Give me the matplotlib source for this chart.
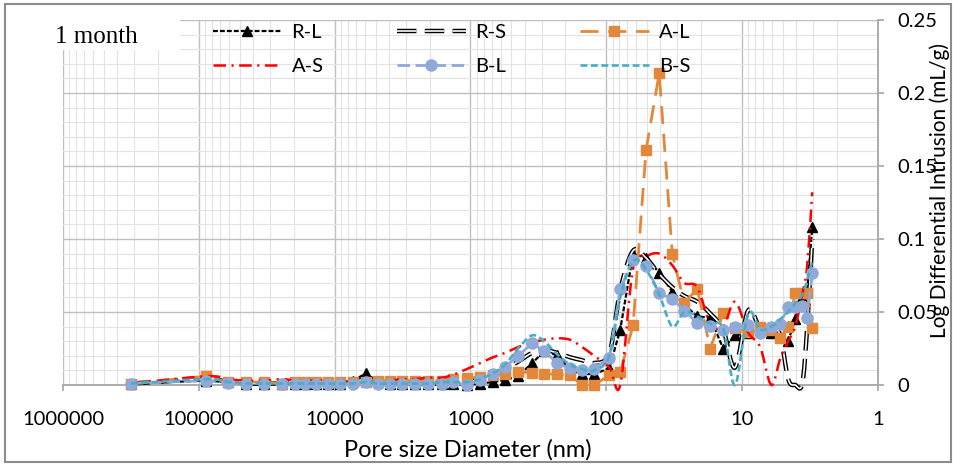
import numpy as np
import matplotlib
matplotlib.use('Agg')
import matplotlib.pyplot as plt
from matplotlib.path import Path
from matplotlib.patches import PathPatch, Rectangle
from matplotlib.lines import Line2D
from matplotlib.ticker import LogLocator, MultipleLocator, FuncFormatter, NullFormatter

plt.rcParams['font.family'] = ['Lato', 'DejaVu Sans']
plt.rcParams['lines.scale_dashes'] = False

# pore diameters (nm), shared by all series
diam = [315600, 88500, 61000, 44900, 33100, 24400, 19600, 16500, 13700, 11200,
        9120, 7320, 5870, 4790, 3910, 3190, 2560, 2050, 1620, 1340,
        1060, 849, 682, 556, 446, 352, 287, 230, 185, 151,
        123, 95, 79, 63.5, 51, 40.8, 32.7, 26.7, 21.4, 17.2,
        13.8, 11.3, 9.04, 7.37, 6.11, 5.25, 4.58, 4.07, 3.61, 3.32, 3.05]

r_l = [0.001, 0.003, 0.002, 0.001, 0.001, 0.001, 0.001, 0.001, 0.001, 0.001,
       0.001, 0.003, 0.008, 0.002, 0.001, 0.001, 0.001, 0.001, 0.001, 0.001,
       0.0, 0.001, 0.002, 0.0035, 0.006, 0.015, 0.023, 0.0205, 0.010, 0.0075,
       0.0075, 0.0115, 0.038, 0.090, 0.087, 0.077, 0.064, 0.055, 0.047, 0.046,
       0.025, 0.034, 0.0355, 0.039, 0.0355, 0.033, 0.030, 0.045, 0.060, 0.064, 0.108]

r_s = [0.001, 0.004, 0.002, 0.001, 0.001, 0.001, 0.001, 0.001, 0.001, 0.001,
       0.001, 0.002, 0.004, 0.002, 0.001, 0.001, 0.001, 0.001, 0.001, 0.002,
       0.002, 0.004, 0.007, 0.011, 0.016, 0.022, 0.024, 0.022, 0.019, 0.017,
       0.015, 0.022, 0.065, 0.092, 0.087, 0.076, 0.067, 0.061, 0.057, 0.049,
       0.038, 0.012, 0.051, 0.039, 0.040, 0.034, 0.004, 0.0, 0.001, 0.040, 0.100]

a_l = [0.001, 0.006, 0.002, 0.002, 0.002, 0.001, 0.002, 0.002, 0.002, 0.002,
       0.002, 0.002, 0.002, 0.003, 0.003, 0.003, 0.003, 0.003, 0.003, 0.004,
       0.0045, 0.0057, 0.0068, 0.0075, 0.009, 0.0085, 0.0075, 0.0075, 0.0068, 0.0,
       0.0, 0.0068, 0.0087, 0.041, 0.161, 0.2135, 0.090, 0.056, 0.066, 0.025,
       0.049, 0.039, 0.036, 0.040, 0.038, 0.032, 0.040, 0.063, 0.063, 0.063, 0.039]

a_s = [0.001, 0.006, 0.004, 0.003, 0.003, 0.004, 0.003, 0.003, 0.003, 0.003,
       0.002, 0.003, 0.003, 0.002, 0.003, 0.004, 0.004, 0.005, 0.005, 0.007,
       0.011, 0.015, 0.019, 0.022, 0.026, 0.029, 0.031, 0.032, 0.031, 0.026,
       0.020, 0.012, 0.0, 0.080, 0.088, 0.090, 0.082, 0.070, 0.067, 0.042,
       0.040, 0.057, 0.036, 0.026, 0.0, 0.018, 0.030, 0.040, 0.062, 0.082, 0.132]

b_l = [0.001, 0.003, 0.0015, 0.001, 0.001, 0.0005, 0.0005, 0.0005, 0.0005, 0.001,
       0.001, 0.001, 0.002, 0.0005, 0.0005, 0.0005, 0.001, 0.001, 0.001, 0.002,
       0.0, 0.0034, 0.0075, 0.0125, 0.020, 0.0285, 0.0235, 0.015, 0.0114, 0.0105,
       0.011, 0.0187, 0.0655, 0.0856, 0.0815, 0.063, 0.059, 0.051, 0.0425, 0.0406,
       0.0375, 0.0397, 0.041, 0.0358, 0.040, 0.0418, 0.0536, 0.0532, 0.054, 0.0457, 0.0765]

b_s = [0.001, 0.004, 0.002, 0.001, 0.001, 0.001, 0.001, 0.001, 0.001, 0.001,
       0.001, 0.001, 0.002, 0.001, 0.001, 0.001, 0.001, 0.001, 0.002, 0.002,
       0.002, 0.004, 0.008, 0.014, 0.025, 0.034, 0.030, 0.021, 0.014, 0.011,
       0.010, 0.020, 0.060, 0.085, 0.079, 0.062, 0.040, 0.050, 0.047, 0.042,
       0.039, 0.0, 0.049, 0.038, 0.040, 0.045, 0.050, 0.056, 0.062, 0.072, 0.085]

x_ticks = [1e6, 1e5, 1e4, 1e3, 1e2, 1e1, 1]

orange = '#E3873B'
lblue = '#8FA9D8'
cyan = '#4BACC6'


def smooth_path(xs, ys):
    # excel-like smoothed line: catmull-rom bezier in (log x, y)
    pts = np.column_stack([np.log10(xs), ys])
    n = len(pts)
    verts = [pts[0]]
    codes = [Path.MOVETO]
    for i in range(n - 1):
        p0 = pts[max(i - 1, 0)]
        p1 = pts[i]
        p2 = pts[i + 1]
        p3 = pts[min(i + 2, n - 1)]
        verts += [p1 + (p2 - p0) / 6, p2 - (p3 - p1) / 6, p2]
        codes += [Path.CURVE4] * 3
    verts = np.array(verts)
    verts[:, 0] = 10 ** verts[:, 0]
    return Path(verts, codes)


fig = plt.figure(figsize=(9.54, 4.66), dpi=100)
ax = fig.add_axes([63 / 954, 1 - 385 / 466, (878 - 63) / 954, (385 - 20) / 466])

# R-L
ax.plot(diam, r_l, color='k', lw=1.6, dashes=(3.5, 1.5), marker='^', ms=6.5,
        clip_on=False, zorder=3)
# R-S (double line)
for c, w in (('k', 3.2), ('white', 1.2)):
    ax.add_patch(PathPatch(smooth_path(diam, r_s), fill=False, edgecolor=c, lw=w,
                           linestyle=(0, (14, 6)), clip_on=False, zorder=4))
# A-L
ax.plot(diam, a_l, color=orange, lw=2, dashes=(13, 7), marker='s', ms=6.5,
        clip_on=False, zorder=5)
# A-S
ax.add_patch(PathPatch(smooth_path(diam, a_s), fill=False, edgecolor='red', lw=1.8,
                       linestyle=(0, (9, 4, 1.5, 4)), clip_on=False, zorder=6))
# B-L
ax.plot(diam, b_l, color=lblue, lw=2, dashes=(9, 4), marker='o', ms=8,
        clip_on=False, zorder=7)
# B-S
ax.add_patch(PathPatch(smooth_path(diam, b_s), fill=False, edgecolor=cyan, lw=1.9,
                       linestyle=(0, (5, 2.5)), clip_on=False, zorder=8))

ax.set_xscale('log')
ax.set_xlim(1e6, 1)
ax.set_ylim(0, 0.25)

ax.set_xticks(x_ticks)
ax.xaxis.set_minor_locator(LogLocator(base=10, subs=np.arange(2, 10), numticks=20))
ax.xaxis.set_major_formatter(FuncFormatter(lambda v, p: '%d' % round(v)))
ax.xaxis.set_minor_formatter(NullFormatter())
ax.yaxis.set_major_locator(MultipleLocator(0.05))
ax.yaxis.set_minor_locator(MultipleLocator(0.01))
ax.yaxis.set_major_formatter(FuncFormatter(lambda v, p: '%g' % round(v, 2)))

ax.grid(True, which='major', color='#BFBFBF', lw=1)
ax.grid(True, which='minor', color='#E3E3E3', lw=0.8)
ax.set_axisbelow(True)

for s in ('left', 'top'):
    ax.spines[s].set_visible(False)
for s in ('bottom', 'right'):
    ax.spines[s].set_color('#A6A6A6')
    ax.spines[s].set_linewidth(1.3)

ax.yaxis.tick_right()
ax.tick_params(axis='both', which='major', direction='out', length=4, width=1.2,
               color='#A6A6A6', labelsize=14.5, labelcolor='black')
ax.tick_params(axis='x', which='major', pad=15)
ax.tick_params(axis='y', which='major', pad=10)
ax.tick_params(which='minor', length=0)
for t in ax.get_yticklabels():
    t.set_horizontalalignment('left')

fig.text(468 / 954, 1 - 450 / 466, 'Pore size Diameter (nm)', ha='center', va='center',
         fontsize=17)
fig.text(940 / 954, 1 - 190 / 466, 'Log Differential Intrusion (mL/g)', ha='center',
         va='center', rotation=90, fontsize=15)

# "1 month" box
fig.patches.append(Rectangle((63 / 954, 1 - 50 / 466), 117 / 954, 30 / 466,
                             transform=fig.transFigure, facecolor='white',
                             edgecolor='none', zorder=1))
fig.text(55 / 954, 1 - 37 / 466, '1 month', ha='left', va='center', fontsize=18,
         family='Liberation Serif', zorder=2)

# outer chart border
fig.patches.append(Rectangle((5 / 954, 4 / 466), 946 / 954, 458 / 466,
                             transform=fig.transFigure, fill=False,
                             edgecolor='#8C8C8C', lw=1.5, zorder=3))

h_rl = Line2D([], [], color='k', lw=1.6, dashes=(3.5, 1.5), marker='^', ms=6.5)
h_rs = (Line2D([], [], color='k', lw=3.2, dashes=(14, 6)),
        Line2D([], [], color='white', lw=1.2, dashes=(14, 6)))
h_al = Line2D([], [], color=orange, lw=2, dashes=(13, 7), marker='s', ms=6.5)
h_as = Line2D([], [], color='red', lw=1.8, dashes=(9, 4, 1.5, 4))
h_bl = Line2D([], [], color=lblue, lw=2, dashes=(9, 4), marker='o', ms=8)
h_bs = Line2D([], [], color=cyan, lw=1.9, dashes=(5, 2.5))

# legend fills column-wise, so order is rows transposed
leg = ax.legend([h_rl, h_as, h_rs, h_bl, h_al, h_bs],
                ['R-L', 'A-S', 'R-S', 'B-L', 'A-L', 'B-S'],
                ncol=3, frameon=False, fontsize=14.5, handlelength=3.4,
                handletextpad=0.5, columnspacing=3.65, labelspacing=0.85,
                borderpad=0, borderaxespad=0, loc='upper left',
                bbox_to_anchor=(213 / 954, 1 - 24 / 466), bbox_transform=fig.transFigure)

fig.savefig('out.png', dpi=100)
